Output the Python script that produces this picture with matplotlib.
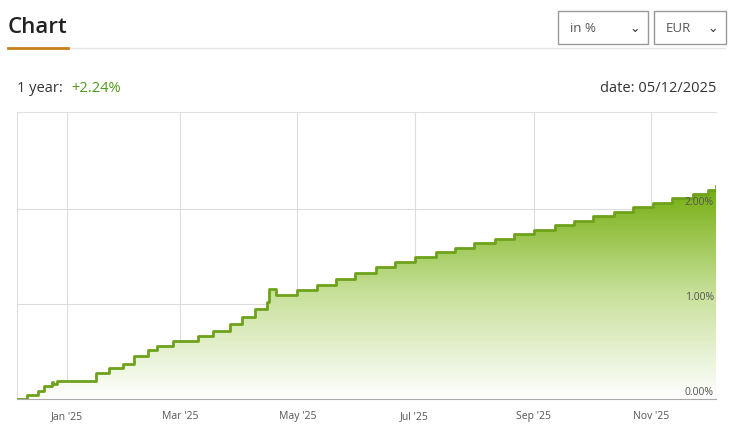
import numpy as np
import pandas as pd
import matplotlib
matplotlib.use("Agg")
import matplotlib.pyplot as plt
import matplotlib.dates as mdates
from matplotlib.patches import Rectangle, Polygon

plt.rcParams['font.family'] = ['Open Sans', 'DejaVu Sans']

# step-like cumulative return (%)
dates = ["2024-12-06", "2024-12-10", "2024-12-11", "2024-12-17", "2024-12-20", "2024-12-24",
         "2024-12-25", "2024-12-27", "2025-01-13", "2025-01-16", "2025-01-23", "2025-01-30",
         "2025-02-05", "2025-02-12", "2025-02-17", "2025-02-25", "2025-03-10", "2025-03-18",
         "2025-03-27", "2025-04-02", "2025-04-09", "2025-04-15", "2025-04-16", "2025-04-20",
         "2025-05-01", "2025-05-11", "2025-05-21", "2025-05-31", "2025-06-11", "2025-06-21",
         "2025-07-01", "2025-07-12", "2025-07-22", "2025-08-01", "2025-08-12", "2025-08-22",
         "2025-09-01", "2025-09-12", "2025-09-22", "2025-10-02", "2025-10-13", "2025-10-23",
         "2025-11-02", "2025-11-12", "2025-11-23", "2025-12-01", "2025-12-05"]
values = [0.00, 0.00, 0.04, 0.08, 0.14, 0.18,
          0.16, 0.19, 0.19, 0.27, 0.33, 0.37,
          0.45, 0.52, 0.56, 0.61, 0.66, 0.72,
          0.79, 0.86, 0.95, 1.02, 1.16, 1.09,
          1.15, 1.20, 1.26, 1.33, 1.39, 1.44,
          1.49, 1.55, 1.59, 1.64, 1.68, 1.74,
          1.78, 1.83, 1.87, 1.93, 1.97, 2.02,
          2.06, 2.12, 2.16, 2.20, 2.24]
month_ticks = ["2025-01-01", "2025-03-01", "2025-05-01", "2025-07-01", "2025-09-01", "2025-11-01"]
y_ticks = [0, 1, 2]

x = mdates.date2num(pd.to_datetime(dates))
y = np.array(values)
xmin, xmax = x[0], x[-1]
ymax = 3.02

fig = plt.figure(figsize=(7.32, 4.31), dpi=100)
ax = fig.add_axes([17 / 732, 31 / 431, 699 / 732, 287 / 431])

# gradient fill under the step line
sx = np.repeat(x, 2)[1:]
sy = np.repeat(y, 2)[:-1]
verts = list(zip(sx, sy)) + [(xmax, 0), (xmin, 0)]
poly = Polygon(verts, closed=True, facecolor='none', edgecolor='none')
ax.add_patch(poly)
grad = np.linspace(0, 1, 256).reshape(-1, 1)
cmap = matplotlib.colors.LinearSegmentedColormap.from_list(
    'g', [(1, 1, 1), (0.78, 0.88, 0.6), (0.45, 0.68, 0.05)])
im = ax.imshow(grad, extent=[xmin, xmax, 0, y.max()], origin='lower', aspect='auto',
               cmap=cmap, zorder=1)
im.set_clip_path(poly)

ax.plot(x, y, drawstyle='steps-post', color='#6ea21b', lw=2, zorder=3)

ax.set_xlim(xmin, xmax)
ax.set_ylim(0, ymax)
ax.set_xticks(mdates.date2num(pd.to_datetime(month_ticks)))
ax.xaxis.set_major_formatter(mdates.DateFormatter("%b '%y"))
ax.set_yticks(y_ticks)
ax.set_yticklabels([])
ax.grid(True, color='#dddddd', lw=0.8, zorder=0)
ax.set_axisbelow(True)
ax.tick_params(axis='x', length=0, labelsize=7.5, colors='#555555', pad=8)
ax.tick_params(axis='y', length=0)
ax.spines['right'].set_visible(False)
for s in ['left', 'top']:
    ax.spines[s].set_color('#e0e0e0')
ax.spines['bottom'].set_color('#aaaaaa')
for v in y_ticks:
    ax.text(0.997, v + 0.02, f"{v:.2f}%", transform=ax.get_yaxis_transform(),
            ha='right', va='bottom', fontsize=7.5, color='#555555', zorder=4)

# header
fig.text(8 / 732, 1 - 28 / 431, "Chart", fontsize=16, color='#222222', va='center',
         fontweight='semibold')
fig.add_artist(plt.Line2D([8 / 732, 725 / 732], [1 - 49 / 431] * 2, color='#e6e6e6', lw=1))
fig.add_artist(plt.Line2D([8 / 732, 68 / 732], [1 - 49 / 431] * 2, color='#c8801a', lw=2))
for x0, x1, lab in [(558, 648, "in %"), (654, 726, "EUR")]:
    fig.add_artist(Rectangle((x0 / 732, 1 - 45 / 431), (x1 - x0) / 732, 33 / 431,
                             transform=fig.transFigure, fill=False, edgecolor='#999999', lw=1))
    fig.text((x0 + 12) / 732, 1 - 29 / 431, lab, fontsize=9.5, color='#555555', va='center')
    fig.text((x1 - 8) / 732, 1 - 29 / 431, "\u2304", fontsize=9, color='#333333',
             va='center', ha='right', family=['DejaVu Sans'])
fig.text(17 / 732, 1 - 89 / 431, "1 year:", fontsize=10.5, color='#333333', va='center')
fig.text(71 / 732, 1 - 89 / 431, "+2.24%", fontsize=10.5, color='#4f9a1a', va='center')
fig.text(716 / 732, 1 - 89 / 431, "date: 05/12/2025", fontsize=10.5, color='#333333',
         va='center', ha='right')

fig.savefig("out.png", dpi=100)
